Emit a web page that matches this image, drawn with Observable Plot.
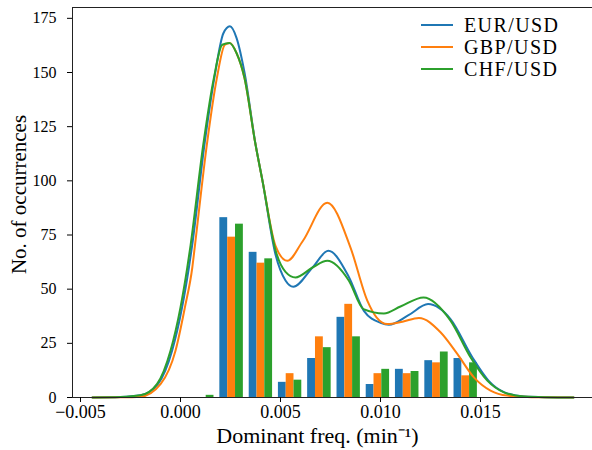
<!DOCTYPE html>
<html><head><meta charset="utf-8">
<script src="https://cdn.jsdelivr.net/npm/d3@7"></script>
<script src="https://cdn.jsdelivr.net/npm/@observablehq/plot@0.6"></script>
<style>
body{margin:0;background:#fff}
#wrap{position:relative;width:592px;height:450px;font-family:"Liberation Serif",serif;overflow:hidden}
.legend{position:absolute;left:421px;top:14px;font-size:20px;line-height:22px;letter-spacing:1.4px;color:#000}
.legend div{display:flex;align-items:center;height:22px}
.legend span.sw{display:inline-block;width:32px;height:0;border-top:2px solid;margin-right:11px}
</style></head>
<body><div id="wrap"></div>
<script>
// ---- data ----
const series = ["EUR/USD", "GBP/USD", "CHF/USD"];
const colors = ["#1f77b4", "#ff7f0e", "#2ca02c"];
const binEdges = [0.00036, 0.00182, 0.00329, 0.00475, 0.00621, 0.00768, 0.00914, 0.01060, 0.01207, 0.01353, 0.01499];
const eurCounts = [0, 83, 67, 7, 18, 37, 6, 13, 17, 18];
const gbpCounts = [0, 74, 62, 11, 28, 43, 11, 11, 16, 10];
const chfCounts = [1, 80, 64, 8, 23, 28, 13, 12, 21, 16];

// KDE curves (x, y)
const eurKdeX = [-0.0044, -0.003, -0.002, -0.00112, -0.00042, 0.00008, 0.00042, 0.00058, 0.0012, 0.00172, 0.00214, 0.00247, 0.0028, 0.0032, 0.00375, 0.0041, 0.00475, 0.00525, 0.00564, 0.0066, 0.00739, 0.0084, 0.00917, 0.01, 0.01042, 0.0114, 0.01238, 0.0135, 0.01459, 0.0154, 0.0162, 0.0172, 0.01965];
const eurKdeY = [0, 0.2, 1, 6.3, 21.6, 41.6, 60, 70, 116.8, 149, 168, 171.3, 166, 150, 117, 100, 66, 54, 51.1, 60, 67.7, 56, 40, 34.5, 33.6, 38, 43.1, 36.2, 18.6, 7.8, 2.4, 0.5, 0];
const gbpKdeX = [-0.0044, -0.003, -0.002, -0.00099, -0.00025, 0.00022, 0.00059, 0.00072, 0.00132, 0.00182, 0.00222, 0.00247, 0.0028, 0.0032, 0.00375, 0.0041, 0.00475, 0.00534, 0.0061, 0.00734, 0.0085, 0.00934, 0.0098, 0.01034, 0.0111, 0.01192, 0.013, 0.01384, 0.01467, 0.0155, 0.01634, 0.018, 0.01965];
const gbpKdeY = [0, 0.1, 0.4, 6.3, 21.6, 41.6, 60, 70, 116.8, 147.5, 162.8, 163.6, 159, 147.5, 116.8, 100, 70, 63.1, 72, 89.9, 69.2, 44.7, 37, 33.9, 35, 36.7, 30.1, 20.1, 9.3, 3.2, 0.9, 0.1, 0];
const chfKdeX = [-0.0044, -0.003, -0.002, -0.00117, -0.0005, 0.0, 0.00034, 0.0005, 0.00114, 0.00167, 0.00209, 0.00245, 0.0028, 0.0032, 0.00375, 0.0041, 0.00475, 0.00525, 0.00575, 0.0066, 0.00734, 0.00842, 0.00915, 0.01017, 0.011, 0.01215, 0.0135, 0.0145, 0.01534, 0.01617, 0.01715, 0.01965];
const chfKdeY = [0, 0.2, 1, 6.3, 21.6, 41.6, 60, 70, 116.8, 147.5, 162.8, 163.6, 159, 147.5, 116.8, 100, 68, 58, 55.4, 60, 63.1, 53.9, 40.8, 38.8, 42, 46.2, 35.5, 18.6, 7.8, 2.4, 0.5, 0];

const xTicks = [-0.005, 0.0, 0.005, 0.01, 0.015];
const yTicks = [0, 25, 50, 75, 100, 125, 150, 175];
const xLabel = "Dominant freq. (min\u207B\u00B9)";
const yLabel = "No. of occurrences";

// ---- build tables ----
const counts = [eurCounts, gbpCounts, chfCounts];
const bars = [];
for (let b = 0; b < binEdges.length - 1; b++) {
  const w = binEdges[b + 1] - binEdges[b];
  const c = (binEdges[b] + binEdges[b + 1]) / 2;
  const bw = 0.8 * w / 3;
  for (let s = 0; s < 3; s++) {
    const x1 = c - 0.4 * w + s * bw;
    bars.push({series: series[s], x1, x2: x1 + bw, count: counts[s][b]});
  }
}
const kx = [eurKdeX, gbpKdeX, chfKdeX], ky = [eurKdeY, gbpKdeY, chfKdeY];
const curves = [];
for (let s = 0; s < 3; s++) kx[s].forEach((x, i) => curves.push({series: series[s], x, y: ky[s][i]}));

const xDomain = [-0.0054, 0.0206];
const fmt = d => (d < 0 ? "\u2212" : "") + Math.abs(d).toFixed(3);

const chart = Plot.plot({
  width: 592, height: 450,
  marginLeft: 72, marginRight: 0, marginTop: 7, marginBottom: 53,
  style: {fontFamily: "Liberation Serif, serif", fontSize: "17px", color: "#000", background: "#fff", overflow: "visible"},
  x: {domain: xDomain},
  y: {domain: [0, 180]},
  color: {domain: series, range: colors},
  marks: [
    Plot.rectY(bars, {x1: "x1", x2: "x2", y: "count", fill: "series"}),
    Plot.line(curves, {x: "x", y: "y", z: "series", stroke: "series", strokeWidth: 2, curve: "monotone-x"}),
    Plot.ruleX([xDomain[0]], {stroke: "#222", strokeWidth: 1}),
    Plot.ruleY([0, 180], {stroke: "#222", strokeWidth: 1}),
    Plot.axisX({ticks: xTicks, tickFormat: fmt, tickSize: 5, tickPadding: 3, fontSize: 18, label: null}),
    Plot.axisY({ticks: yTicks, tickSize: 5, tickPadding: 11, fontSize: 16, label: null}),
    Plot.text([xLabel], {frameAnchor: "bottom", textAnchor: "middle", dx: -15, dy: 45, fontSize: 22}),
    Plot.text([yLabel], {frameAnchor: "left", textAnchor: "middle", rotate: -90, dx: -53, dy: -8, fontSize: 21})
  ]
});
const wrap = document.getElementById("wrap");
wrap.appendChild(chart);
const leg = document.createElement("div");
leg.className = "legend";
series.forEach((s, i) => {
  const row = document.createElement("div");
  row.innerHTML = `<span class="sw" style="border-color:${colors[i]}"></span>${s}`;
  leg.appendChild(row);
});
wrap.appendChild(leg);
</script>
</body></html>
